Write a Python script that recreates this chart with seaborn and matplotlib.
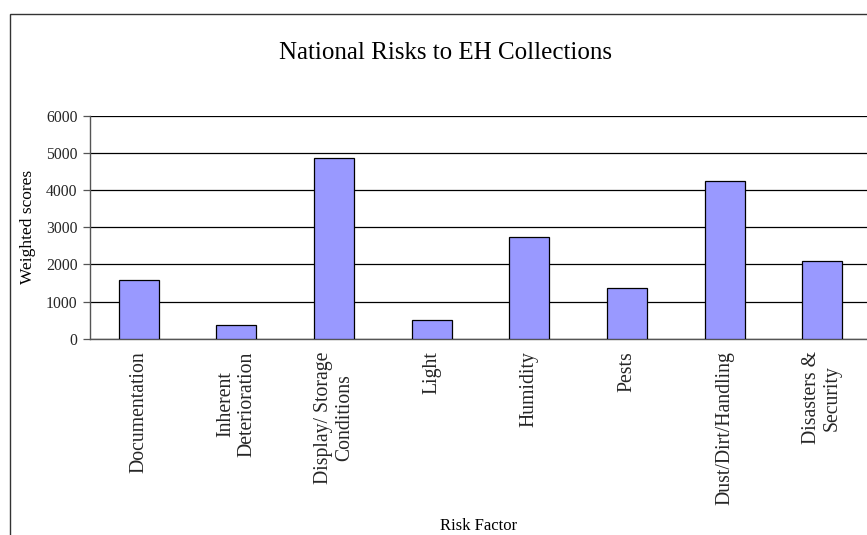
import matplotlib
matplotlib.use("Agg")
import matplotlib.pyplot as plt
import matplotlib.patches as mpatches
import seaborn as sns
import pandas as pd
import numpy as np

categories = ["Documentation", "Inherent\nDeterioration", "Display/ Storage\nConditions",
              "Light", "Humidity", "Pests", "Dust/Dirt/Handling", "Disasters &\nSecurity"]
scores = [1580, 375, 4880, 495, 2740, 1360, 4250, 2100]
yticks = [0, 1000, 2000, 3000, 4000, 5000, 6000]

df = pd.DataFrame({"Risk Factor": categories, "Weighted scores": scores})

sns.set_theme(style="white")
plt.rcParams['font.family'] = ['Liberation Serif', 'DejaVu Serif']

W, H = 867, 535
fig = plt.figure(figsize=(W / 100, H / 100), dpi=100)

# outer chart frame
frame = mpatches.Rectangle((10 / W, -0.1), 1.2, 1 - 14 / H + 0.1, transform=fig.transFigure,
                           fill=False, edgecolor="#333333", linewidth=1.0, zorder=0)
fig.patches.append(frame)

left, right = 90, 871
bottom_px, top_px = 338.7, 116
ax = fig.add_axes([left / W, 1 - bottom_px / H, (right - left) / W, (bottom_px - top_px) / H])
ax.set_facecolor("none")

sns.barplot(data=df, x="Risk Factor", y="Weighted scores", ax=ax, color="#9999FF",
            width=0.41, edgecolor="black", linewidth=0.9, saturation=1, zorder=3)

ax.set_xlim(-0.5, len(categories) - 0.5)
ax.set_ylim(0, 6000)
ax.set_yticks(yticks)
ax.set_yticklabels([str(v) for v in yticks], fontsize=11.3)
ax.yaxis.grid(True, color="black", linewidth=0.9, zorder=0)
ax.set_axisbelow(True)

ax.set_xticks(range(len(categories)))
ax.set_xticklabels(categories, rotation=90, fontsize=14.2, va="top", ha="center",
                   multialignment="center", linespacing=1.1)
ax.set_xticks(np.arange(-0.5, len(categories) - 0.4, 1), minor=True)
ax.tick_params(axis="x", which="major", length=0, pad=9)
ax.tick_params(axis="x", which="minor", length=6, width=0.9, color="#555555", direction="out")
ax.tick_params(axis="y", which="major", length=5, width=0.9, color="#555555", direction="out",
               pad=4, left=True)

for s in ["top", "right"]:
    ax.spines[s].set_visible(False)
for s in ["left", "bottom"]:
    ax.spines[s].set_color("#555555")
    ax.spines[s].set_linewidth(1.0)

ax.set_xlabel("")
ax.set_ylabel("")

fig.text(445.5 / W, 1 - 59 / H, "National Risks to EH Collections", ha="center",
         va="baseline", fontsize=18, color="black")
fig.text(28 / W, 1 - 227 / H, "Weighted scores", rotation=90, ha="center", va="center",
         fontsize=12.5, color="black")
fig.text(479 / W, 1 - 530 / H, "Risk Factor", ha="center", va="baseline", fontsize=12,
         color="black")

fig.savefig("out.png", dpi=100)
